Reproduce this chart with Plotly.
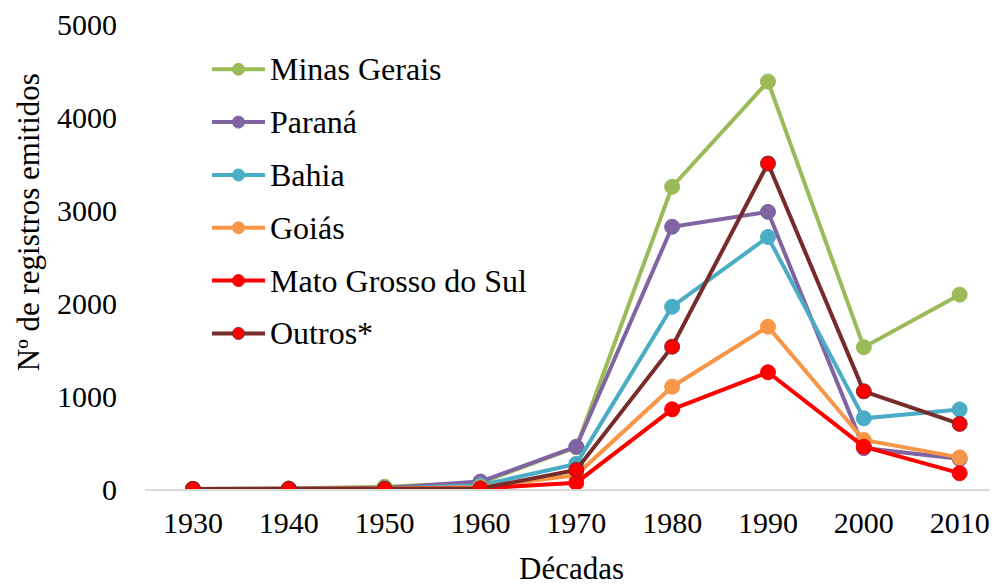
import plotly.graph_objects as go

decades = [1930, 1940, 1950, 1960, 1970, 1980, 1990, 2000, 2010]
tick_labels = ["1930", "1940", "1950", "1960", "1970", "1980", "1990", "2000", "2010"]

minas_gerais = [0, 5, 25, 65, 450, 3250, 4380, 1525, 2090]
parana = [0, 5, 10, 80, 455, 2820, 2980, 440, 325]
bahia = [0, 2, 5, 40, 270, 1960, 2710, 760, 855]
goias = [0, 2, 5, 20, 150, 1100, 1745, 527, 340]
mato_grosso_do_sul = [0, 0, 0, 5, 68, 857, 1255, 455, 170]
outros = [0, 0, 0, 5, 205, 1530, 3500, 1050, 700]

series = [
    ("Minas Gerais", minas_gerais, "#9BBB59", "#9BBB59", "#9BBB59"),
    ("Paraná", parana, "#8064A2", "#8064A2", "#8064A2"),
    ("Bahia", bahia, "#4BACC6", "#4BACC6", "#4BACC6"),
    ("Goiás", goias, "#F79646", "#F79646", "#F79646"),
    ("Mato Grosso do Sul", mato_grosso_do_sul, "#FF0000", "#FF0000", "#FF0000"),
    ("Outros*", outros, "#772C2A", "#FF0000", "#772C2A"),
]

font = "Liberation Serif"

fig = go.Figure()
for i, (name, vals, lc, mc, mlc) in enumerate(series):
    fig.add_trace(go.Scatter(
        x=decades, y=vals, name=name, mode="lines+markers",
        line=dict(color=lc, width=4),
        marker=dict(color=mc, size=15, line=dict(color=mlc, width=1)),
        showlegend=False,
    ))

# legend drawn in paper coordinates (layout, not data)
leg_x0, leg_x1, leg_xm, leg_tx = 0.0785, 0.1407, 0.1096, 0.1442
leg_y0, leg_dy = 0.9026, 0.1136
rx, ry = 6 / 853, 6 / 465
shapes, annotations = [], []
for i, (name, vals, lc, mc, mlc) in enumerate(series):
    yy = leg_y0 - i * leg_dy
    shapes.append(dict(type="line", xref="paper", yref="paper",
                       x0=leg_x0, x1=leg_x1, y0=yy, y1=yy,
                       line=dict(color=lc, width=4)))
    shapes.append(dict(type="circle", xref="paper", yref="paper",
                       x0=leg_xm - rx, x1=leg_xm + rx, y0=yy - ry, y1=yy + ry,
                       fillcolor=mc, line=dict(color=mlc, width=1)))
    annotations.append(dict(text=name, xref="paper", yref="paper",
                            x=leg_tx, y=yy, xanchor="left", yanchor="middle",
                            showarrow=False,
                            font=dict(family=font, size=32, color="black")))

# y-axis title (placed as annotation to match the reference's offset)
annotations.append(dict(text="Nº de registros emitidos", xref="paper", yref="paper",
                        x=-0.137, y=0.574, xanchor="center", yanchor="middle",
                        textangle=-90, showarrow=False,
                        font=dict(family=font, size=31, color="black")))

fig.update_layout(
    template="none",
    width=990, height=578,
    margin=dict(l=137, r=0, t=16, b=97),
    paper_bgcolor="white", plot_bgcolor="white",
    font=dict(family=font, size=30, color="black"),
    showlegend=False,
    shapes=shapes, annotations=annotations,
    xaxis=dict(range=[1925, 2014], tickvals=decades, ticktext=tick_labels,
               showgrid=False, showline=True, linecolor="#D9D9D9", linewidth=2,
               ticks="", zeroline=False, tickfont=dict(size=30, family=font),
               ticklabelstandoff=6, ticklabeloverflow="allow",
               title=dict(text="Décadas", font=dict(size=31, family=font), standoff=20)),
    yaxis=dict(range=[0, 5000], tickvals=[0, 1000, 2000, 3000, 4000, 5000],
               showgrid=False, showline=False, zeroline=False, ticks="",
               tickfont=dict(size=30, family=font), ticklabelstandoff=27,
               ticklabeloverflow="allow"),
)

fig.write_html("out.html")
